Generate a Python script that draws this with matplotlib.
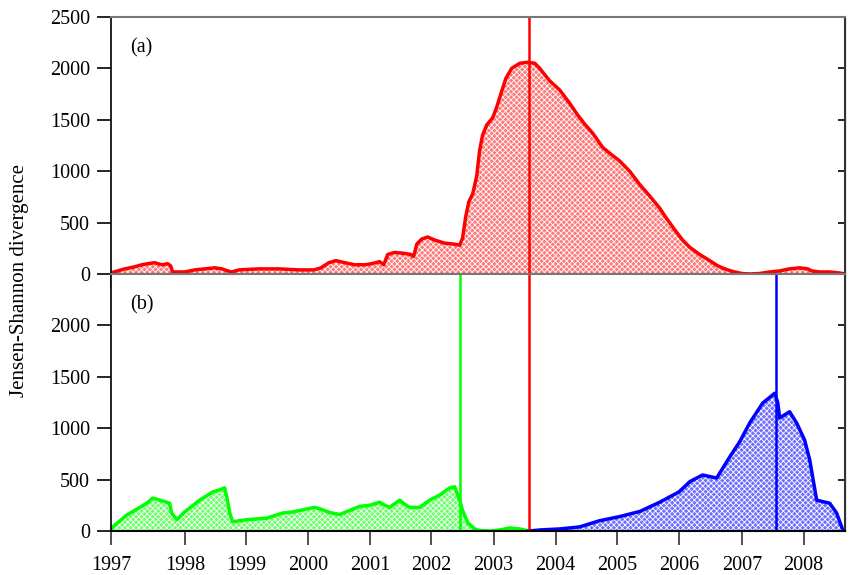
import matplotlib.pyplot as plt

plt.rcParams['font.family'] = ['Liberation Serif', 'DejaVu Serif']
plt.rcParams['font.size'] = 14.5
plt.rcParams['hatch.linewidth'] = 0.6

# x axis is a trading-day index; first day of each year
year_days = [0, 302, 549, 801, 1053, 1300, 1553, 1805, 2054, 2307, 2560, 2811]
year_labels = [str(y) for y in range(1997, 2009)]
x_end = 2979

# (a) red series
red_day = [0, 27, 56, 96, 125, 149, 177, 206, 230, 242, 250, 299, 340, 380, 421,
           450, 474, 490, 519, 600, 681, 763, 824, 852, 884, 913, 949, 989, 1030,
           1058, 1090, 1107, 1123, 1151, 1192, 1216, 1228, 1241, 1261, 1285, 1314,
           1354, 1395, 1415, 1427, 1439, 1452, 1468, 1484, 1496, 1508, 1525, 1549,
           1565, 1582, 1602, 1626, 1659, 1691, 1720, 1740, 1780, 1821, 1862, 1890,
           1922, 1955, 1996, 2032, 2064, 2105, 2146, 2186, 2227, 2255, 2288, 2320,
           2349, 2389, 2430, 2462, 2491, 2523, 2560, 2592, 2633, 2673, 2714, 2754,
           2795, 2828, 2844, 2876, 2917, 2957, 2978]
red_val = [10, 30, 50, 70, 90, 100, 110, 90, 100, 80, 20, 20, 40, 50, 60,
           50, 30, 20, 40, 50, 50, 40, 40, 60, 110, 130, 110, 90, 90,
           100, 120, 90, 190, 210, 200, 190, 170, 290, 340, 360, 330,
           300, 290, 280, 350, 550, 700, 780, 950, 1200, 1350, 1450, 1520,
           1620, 1750, 1900, 2000, 2050, 2060, 2050, 2000, 1880, 1790, 1660, 1560,
           1460, 1370, 1230, 1160, 1100, 1000, 870, 760, 640, 540, 430, 330,
           260, 190, 130, 80, 50, 25, 5, 0, 5, 20, 30, 50,
           60, 50, 30, 20, 20, 10, 0]

# (b) green series
green_day = [0, 7, 64, 117, 145, 169, 226, 238, 246, 267, 299, 360, 413, 441, 461,
             470, 482, 494, 551, 632, 697, 737, 786, 827, 855, 887, 928, 969, 1009,
             1050, 1090, 1111, 1131, 1172, 1192, 1212, 1253, 1293, 1334, 1375, 1395,
             1415, 1427, 1448, 1476, 1496, 1537, 1578, 1618, 1659, 1696]
green_val = [0, 40, 155, 230, 270, 320, 280, 270, 175, 110, 185, 300, 380, 400, 420,
             330, 175, 90, 110, 125, 175, 185, 210, 230, 210, 180, 160, 200, 240,
             250, 280, 250, 230, 300, 260, 230, 230, 300, 350, 420, 430,
             300, 200, 80, 20, 5, 0, 10, 30, 20, 0]

# (b) blue series
blue_day = [1696, 1740, 1821, 1902, 1983, 2064, 2146, 2227, 2305, 2349, 2401, 2458,
            2511, 2552, 2592, 2645, 2694, 2706, 2714, 2754, 2783, 2815, 2836, 2864,
            2917, 2945, 2970, 2979]
blue_val = [0, 10, 20, 40, 100, 140, 190, 280, 380, 480, 545, 515,
            720, 870, 1050, 1245, 1340, 1250, 1100, 1160, 1050, 885, 690, 300,
            270, 175, 10, 0]

# change points
green_cp = 1418
red_cp = 1696
blue_cp = 2700

fig = plt.figure(figsize=(8.49, 5.75), dpi=100)
ax1 = fig.add_axes([111 / 849, 1 - 274 / 575, 734 / 849, 257 / 575])
ax2 = fig.add_axes([111 / 849, 1 - 531 / 575, 734 / 849, 257 / 575])


def area(ax, x, y, color, light):
    ax.fill_between(x, y, facecolor=light, edgecolor='white', hatch='xxxxxx', lw=0)
    ax.plot(x, y, color=color, lw=2.5)


area(ax1, red_day, red_val, 'red', '#ff7a7a')
ax1.axvline(red_cp, color='red', lw=1.8)

area(ax2, green_day, green_val, '#00ff00', '#6cff6c')
area(ax2, blue_day, blue_val, 'blue', '#7070ff')
ax2.axvline(green_cp, color='#00ff00', lw=1.8)
ax2.axvline(red_cp, color='red', lw=1.8)
ax2.axvline(blue_cp, color='blue', lw=1.8)

for ax in (ax1, ax2):
    ax.set_xlim(0, x_end)
    ax.set_ylim(0, 2500)
    ax.set_xticks(year_days)
    ax.tick_params(axis='x', direction='out', length=10, width=1.2, pad=8,
                   colors='#333333', labelcolor='black')
    ax.tick_params(axis='y', left=True, right=False, direction='out',
                   length=10, width=1.2, pad=5)
    ax.spines['left'].set_linewidth(1.2)
    ax.spines['bottom'].set_linewidth(1.5)
    ax.spines['right'].set_color('#333333')
    ax.spines['right'].set_linewidth(1.5)
    ax.spines['top'].set_color('#777777')
    ax.spines['top'].set_linewidth(1.5)
    axr = ax.secondary_yaxis('right')
    axr.set_yticks(range(0, 2501, 500))
    axr.tick_params(direction='in', length=5, width=1.2, labelright=False)

ax1.set_yticks(range(0, 2501, 500))
ax1.set_xticklabels([])
ax2.set_yticks(range(0, 2001, 500))
ax2.set_xticklabels(year_labels)

ax1.text(0.026, 0.88, '(a)', transform=ax1.transAxes, va='center')
ax2.text(0.026, 0.88, '(b)', transform=ax2.transAxes, va='center')

fig.text(20 / 849, 1 - 280 / 575, 'Jensen-Shannon divergence', rotation=90,
         ha='center', va='center', fontsize=15)

fig.savefig('out.png', dpi=100)
